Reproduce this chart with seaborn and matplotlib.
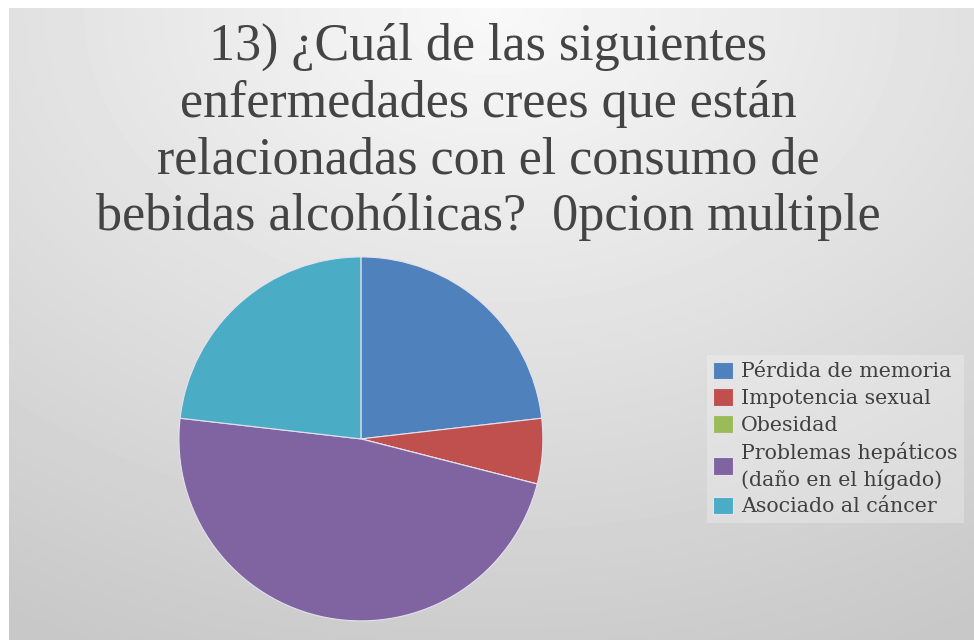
import numpy as np
import matplotlib
matplotlib.use("Agg")
import matplotlib.pyplot as plt
import seaborn as sns

# Data
categorias = ["Pérdida de memoria", "Impotencia sexual", "Obesidad",
              "Problemas hepáticos\n(daño en el hígado)", "Asociado al cáncer"]
respuestas = [16, 4, 0, 33, 16]
colores = ["#4F81BD", "#C0504D", "#9BBB59", "#8064A2", "#4BACC6"]
titulo = ("13) ¿Cuál de las siguientes\nenfermedades crees que están\n"
          "relacionadas con el consumo de\nbebidas alcohólicas?  0pcion multiple")

sns.set_theme(style="white")
paleta = sns.color_palette(colores)

fig = plt.figure(figsize=(9.74, 6.40), dpi=100)
fig.patch.set_facecolor("white")

# Grey gradient background (lighter at the top centre)
bg = fig.add_axes([9 / 974, 0, 1 - 9 / 974, 1 - 8 / 640])
yy, xx = np.mgrid[0:1:200j, 0:1:300j]
dist = np.sqrt(((xx - 0.5) * 1.1) ** 2 + (yy * 1.0) ** 2)
shade = 0.975 - 0.19 * np.clip(dist, 0, 1.1) / 1.1
bg.imshow(shade, cmap="gray", vmin=0, vmax=1, aspect="auto",
          extent=[0, 1, 1, 0], interpolation="bilinear")
bg.set_axis_off()

# Pie
ax = fig.add_axes([0.1837, 0.0297, 0.3737, 0.569])
wedges, _ = ax.pie(respuestas, colors=paleta, startangle=90, counterclock=False,
                   wedgeprops=dict(edgecolor="#e4e2ee", linewidth=0.8))
ax.set_xlim(-1, 1)
ax.set_ylim(-1, 1)
ax.set_aspect("equal")
ax.set_axis_off()

fig.text(488 / 974, 1 - 23 / 640, titulo, ha="center", va="top",
         fontsize=37.5, family="Liberation Serif", color="#444444",
         linespacing=1.23)

leg = fig.legend(wedges, categorias, loc="center left",
                 bbox_to_anchor=(697 / 974, 1 - 439 / 640),
                 prop=dict(family="DejaVu Serif", size=14.8),
                 frameon=True, facecolor="white", framealpha=0.25,
                 edgecolor="none", handlelength=0.95, handleheight=0.95,
                 handletextpad=0.4, labelspacing=0.34, borderpad=0.3,
                 fancybox=False)
for t in leg.get_texts():
    t.set_color("#404040")
    t.set_linespacing(1.35)

fig.savefig("out.png", dpi=100)
